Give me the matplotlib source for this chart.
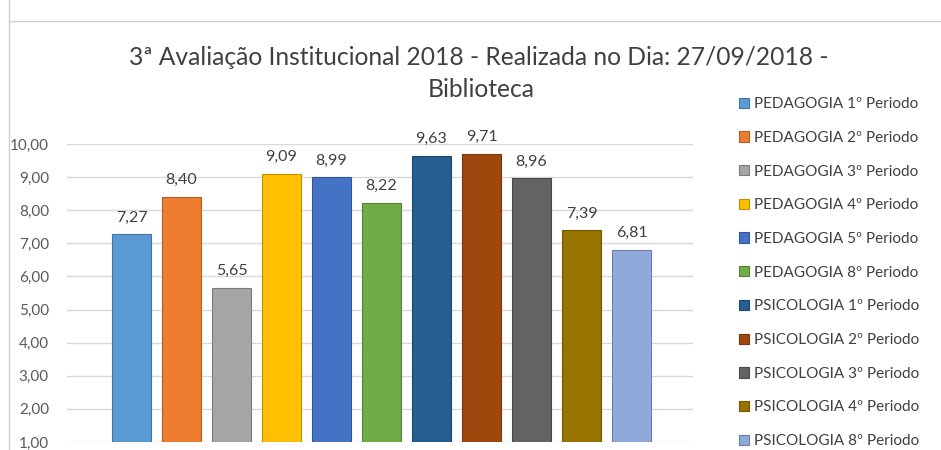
import matplotlib.pyplot as plt
from matplotlib.lines import Line2D
from matplotlib.ticker import FuncFormatter, MultipleLocator
import matplotlib.colors as mcolors

# --- dados ---
turmas = ['PEDAGOGIA 1º Periodo', 'PEDAGOGIA 2º Periodo', 'PEDAGOGIA 3º Periodo',
          'PEDAGOGIA 4º Periodo', 'PEDAGOGIA 5º Periodo', 'PEDAGOGIA 8º Periodo',
          'PSICOLOGIA 1º Periodo', 'PSICOLOGIA 2º Periodo', 'PSICOLOGIA 3º Periodo',
          'PSICOLOGIA 4º Periodo', 'PSICOLOGIA 8º Periodo']
notas = [7.27, 8.40, 5.65, 9.09, 8.99, 8.22, 9.63, 9.71, 8.96, 7.39, 6.81]
cores = ['#5B9BD5', '#ED7D31', '#A5A5A5', '#FFC000', '#4472C4', '#70AD47',
         '#255E91', '#9E480E', '#636363', '#997300', '#8FA9DB']

plt.rcParams['font.family'] = ['Lato', 'DejaVu Sans']
texto = '#404040'

fig = plt.figure(figsize=(9.41, 4.5), dpi=100)
ax = fig.add_axes([67 / 941, 8 / 450, 626 / 941, 298 / 450])

def escurecer(c, f=0.75):
    r, g, b = mcolors.to_rgb(c)
    return (r * f, g * f, b * f)

for i, (t, v, c) in enumerate(zip(turmas, notas, cores)):
    ax.bar(i, v - 1, bottom=1, width=0.78, color=c, edgecolor=escurecer(c),
           linewidth=0.8, label=t, zorder=3)
    ax.text(i, v + 0.3, f'{v:.2f}'.replace('.', ','), ha='center', va='bottom',
            fontsize=11.5, color=texto)

ax.set_xlim(-1.29, 11.23)
ax.set_ylim(1, 10)
ax.yaxis.set_major_locator(MultipleLocator(1))
ax.yaxis.set_major_formatter(FuncFormatter(lambda v, p: f'{v:.2f}'.replace('.', ',')))
ax.set_xticks([])
ax.tick_params(axis='y', length=0, pad=13, labelsize=11, labelcolor='#595959')
ax.grid(axis='y', color='#D9D9D9', linewidth=1, zorder=0)
for s in ax.spines.values():
    s.set_visible(False)

fig.text(479 / 941, 1 - 65 / 450, '3ª Avaliação Institucional 2018 - Realizada no Dia: 27/09/2018 -',
         ha='center', va='baseline', fontsize=17.7, color=texto)
fig.text(481 / 941, 1 - 97 / 450, 'Biblioteca', ha='center', va='baseline',
         fontsize=17.7, color=texto)

ax.legend(loc='upper left', bbox_to_anchor=(733 / 941, 1 - 91 / 450),
          bbox_transform=fig.transFigure, frameon=False, fontsize=11,
          labelcolor=texto, handlelength=0.65, handleheight=0.65,
          handletextpad=0.35, labelspacing=1.29, borderaxespad=0)

# bordas do gráfico do Excel
fig.add_artist(Line2D([9 / 941, 1], [1 - 21 / 450, 1 - 21 / 450], color='#D0D0D0', linewidth=1))
fig.add_artist(Line2D([9 / 941, 9 / 941], [0, 1], color='#D0D0D0', linewidth=1))

fig.savefig('out.png', dpi=100)
